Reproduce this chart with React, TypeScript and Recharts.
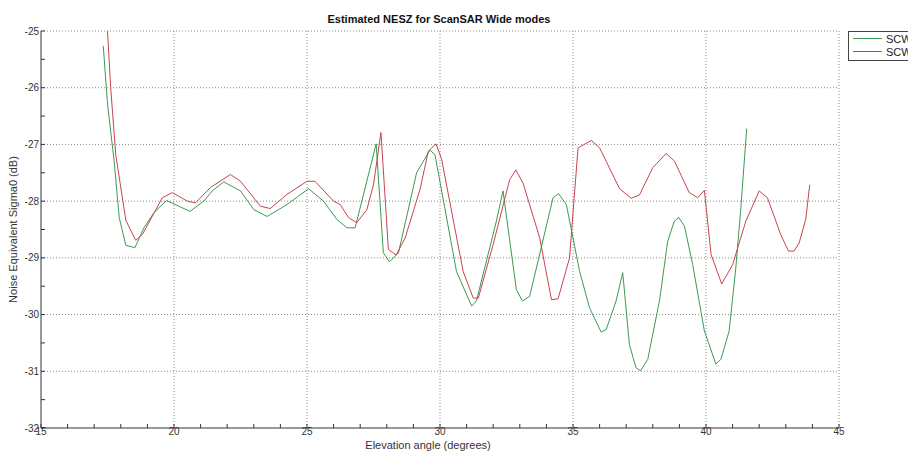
import React from "react";
import { LineChart, Line, XAxis, YAxis, ReferenceLine } from "recharts";

// SCW1 (green) – elevation angle in degrees and NESZ in dB
const scw1Angle = [
  17.34, 17.5, 17.75, 17.94, 18.19, 18.53, 18.87, 19.25, 19.72, 20.6, 21.12, 21.44, 21.87, 22.5, 23.0, 23.5,
  24.25, 25.06, 25.62, 26.12, 26.5, 26.81, 27.6, 27.87, 28.1, 28.44, 29.12, 29.62, 29.81, 30.62, 31.19, 31.37,
  32.12, 32.37, 32.87, 33.1, 33.37, 34.25, 34.46, 34.75, 35.25, 35.62, 36.06, 36.25, 36.62, 36.87, 37.12, 37.37,
  37.54, 37.81, 38.25, 38.56, 38.81, 38.98, 39.19, 39.5, 39.94, 40.37, 40.56, 40.87, 41.12, 41.31, 41.53,
];
const scw1Nesz = [
  -25.26, -26.29, -27.29, -28.29, -28.78, -28.82, -28.47, -28.2, -27.99, -28.18, -28.0, -27.82, -27.66, -27.82, -28.15, -28.27,
  -28.06, -27.78, -28.0, -28.32, -28.47, -28.47, -26.99, -28.91, -29.07, -28.91, -27.5, -27.1, -27.18, -29.24, -29.85, -29.76,
  -28.35, -27.82, -29.56, -29.76, -29.68, -27.94, -27.87, -28.06, -29.24, -29.88, -30.31, -30.26, -29.76, -29.26, -30.53, -30.94,
  -30.99, -30.79, -29.76, -28.71, -28.35, -28.29, -28.44, -29.12, -30.29, -30.87, -30.79, -30.29, -29.18, -28.12, -26.72,
];

// SCW2 (red)
const scw2Angle = [
  17.5, 17.62, 17.81, 18.19, 18.56, 18.81, 19.56, 19.94, 20.5, 20.81, 21.37, 22.12, 22.5, 23.25, 23.62, 24.25,
  25.0, 25.3, 26.0, 26.25, 26.56, 26.87, 27.25, 27.5, 27.78, 28.06, 28.35, 28.69, 29.25, 29.56, 29.85, 30.06,
  30.87, 31.25, 31.44, 32.0, 32.62, 32.85, 33.12, 33.75, 34.19, 34.44, 34.87, 35.19, 35.69, 36.0, 36.75, 37.19,
  37.5, 38.0, 38.5, 38.81, 39.37, 39.69, 39.94, 40.19, 40.59, 41.0, 41.5, 42.0, 42.31, 42.81, 43.1, 43.31,
  43.5, 43.75, 43.9,
];
const scw2Nesz = [
  -25.0, -26.0, -27.18, -28.34, -28.69, -28.59, -27.94, -27.85, -28.0, -28.03, -27.76, -27.53, -27.65, -28.09, -28.13, -27.88,
  -27.65, -27.65, -28.0, -28.06, -28.29, -28.38, -28.15, -27.71, -26.79, -28.85, -28.95, -28.65, -27.79, -27.12, -26.99, -27.26,
  -29.24, -29.71, -29.71, -28.76, -27.62, -27.45, -27.68, -28.65, -29.74, -29.72, -29.0, -27.06, -26.93, -27.06, -27.78, -27.95,
  -27.89, -27.41, -27.16, -27.29, -27.85, -27.94, -27.81, -28.94, -29.46, -29.12, -28.35, -27.82, -27.94, -28.59, -28.88, -28.88,
  -28.74, -28.32, -27.71,
];

const xTicks = [15, 16, 17, 18, 19, 20, 21, 22, 23, 24, 25, 26, 27, 28, 29, 30, 31, 32, 33, 34, 35, 36, 37, 38, 39, 40, 41, 42, 43, 44, 45];
const yTicks = [-32, -31.5, -31, -30.5, -30, -29.5, -29, -28.5, -28, -27.5, -27, -26.5, -26, -25.5, -25];
const xGrid = [20, 25, 30, 35, 40, 45];
const yGrid = [-31, -30, -29, -28, -27, -26, -25];

const GREEN = "#3c9a52";
const RED = "#c8434f";
const FONT = "'Liberation Sans', Arial, sans-serif";

const scw1 = scw1Angle.map((x, i) => ({ x, y: scw1Nesz[i] }));
const scw2 = scw2Angle.map((x, i) => ({ x, y: scw2Nesz[i] }));

const series = [
  { name: "SCW1", color: GREEN },
  { name: "SCW2", color: RED },
];

// legend box sits at the right edge, partly outside the page
function LegendBox() {
  return (
    <div
      style={{
        position: "absolute",
        left: 848,
        top: 31,
        border: "1px solid #444",
        background: "#fff",
        width: 90,
        height: 30,
        padding: "0 0 0 4px",
        boxSizing: "border-box",
        fontFamily: FONT,
        fontSize: 11,
        color: "#222",
      }}
    >
      {series.map((r) => (
        <div key={r.name} style={{ display: "flex", alignItems: "center", height: 13 }}>
          <div style={{ width: 29, height: 1, background: r.color, marginRight: 4 }} />
          <span>{r.name}</span>
        </div>
      ))}
    </div>
  );
}

export default function App() {
  return (
    <div style={{ position: "fixed", left: 0, top: 0, width: 908, height: 451, overflow: "hidden", background: "#fff" }}>
      <div
        style={{
          position: "absolute",
          left: 0,
          width: 878,
          top: 13,
          textAlign: "center",
          fontFamily: FONT,
          fontWeight: "bold",
          fontSize: 11,
          color: "#111",
        }}
      >
        Estimated NESZ for ScanSAR Wide modes
      </div>
      <LineChart width={908} height={451} margin={{ top: 31, right: 69, bottom: 0, left: 0 }}>
        <XAxis
          type="number"
          dataKey="x"
          domain={[15, 45]}
          ticks={xTicks}
          interval={0}
          allowDataOverflow
          height={23}
          tickSize={-4}
          tickMargin={4}
          stroke="#333"
          tick={{ fontSize: 10, fill: "#333", fontFamily: FONT }}
          tickFormatter={(v: number) => (v % 5 === 0 ? String(v) : "")}
          label={{ value: "Elevation angle (degrees)", position: "insideBottom", offset: 2, dx: -12, fontSize: 11, fill: "#333", fontFamily: FONT }}
        />
        <YAxis
          type="number"
          dataKey="y"
          domain={[-32, -25]}
          ticks={yTicks}
          interval={0}
          allowDataOverflow
          width={41}
          tickSize={-4}
          tickMargin={6}
          stroke="#333"
          tick={{ fontSize: 10, fill: "#333", fontFamily: FONT }}
          tickFormatter={(v: number) => (Number.isInteger(v) ? String(v) : "")}
          label={{ value: "Noise Equivalent Sigma0 (dB)", angle: -90, position: "insideLeft", offset: 13, fontSize: 11, fill: "#333", fontFamily: FONT, style: { textAnchor: "middle" } }}
        />
        {xGrid.map((v) => (
          <ReferenceLine key={"gx" + v} x={v} stroke="#8a8a8a" strokeDasharray="1 2" />
        ))}
        {yGrid.map((v) => (
          <ReferenceLine key={"gy" + v} y={v} stroke="#8a8a8a" strokeDasharray="1 2" />
        ))}
        {[scw1, scw2].map((d, i) => (
          <Line
            key={series[i].name}
            data={d}
            dataKey="y"
            name={series[i].name}
            type="linear"
            stroke={series[i].color}
            strokeWidth={1}
            dot={false}
            isAnimationActive={false}
          />
        ))}
      </LineChart>
      <LegendBox />
    </div>
  );
}
